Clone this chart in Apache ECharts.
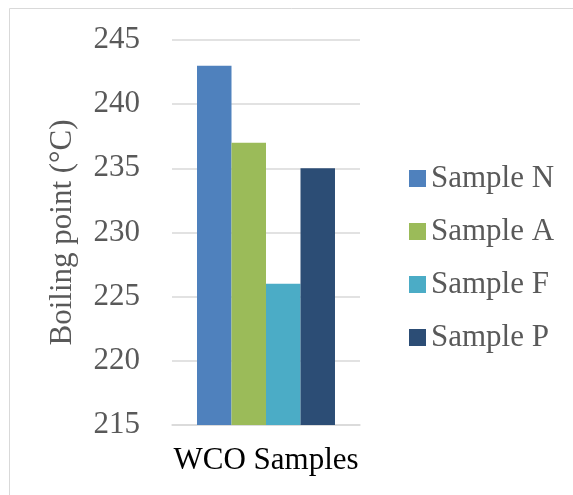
<!DOCTYPE html>
<html>
<head>
<meta charset="utf-8">
<script src="https://cdn.jsdelivr.net/npm/echarts@6/dist/echarts.min.js"></script>
<style>
  html, body { margin: 0; padding: 0; background: #fff; }
  #chart { width: 573px; height: 495px; }
</style>
</head>
<body>
<div id="chart"></div>
<script>
// Boiling point of waste cooking oil samples
const categories = ['WCO Samples'];
const seriesNames = ['Sample N', 'Sample A', 'Sample F', 'Sample P'];
const seriesValues = [[243], [237], [226], [235]];
const seriesColors = ['#4F81BD', '#9BBB59', '#4BACC6', '#2C4D75'];
const yMin = 215, yMax = 245, yStep = 5;

const FONT = 'Liberation Serif';

const chart = echarts.init(document.getElementById('chart'), null, { renderer: 'canvas' });

const series = seriesNames.map((name, i) => ({
  name: name,
  type: 'bar',
  data: seriesValues[i],
  itemStyle: { color: seriesColors[i] },
  barGap: 0,
  barCategoryGap: '26.6%'
}));

chart.setOption({
  backgroundColor: '#ffffff',
  animation: false,
  graphic: [{
    type: 'rect',
    shape: { x: 9.5, y: 8.5, width: 700, height: 700 },
    style: { fill: 'none', stroke: '#d9d9d9', lineWidth: 1 },
    silent: true,
    z: -10
  }],
  grid: { left: 172, right: 213, top: 40, bottom: 70 },
  legend: {
    orient: 'vertical',
    left: 404,
    top: 158,
    itemWidth: 17,
    itemHeight: 17,
    itemGap: 22,
    icon: 'rect',
    data: seriesNames,
    textStyle: { fontFamily: FONT, fontSize: 31, color: '#595959', lineHeight: 31 }
  },
  xAxis: {
    type: 'category',
    data: categories,
    axisLine: { show: true, lineStyle: { color: '#d9d9d9', width: 1.5 } },
    axisTick: { show: false },
    axisLabel: { fontFamily: FONT, fontSize: 31, color: '#000000', margin: 20 }
  },
  yAxis: {
    type: 'value',
    min: yMin,
    max: yMax,
    interval: yStep,
    name: 'Boiling point (°C)',
    nameLocation: 'middle',
    nameGap: 94,
    nameTextStyle: { fontFamily: FONT, fontSize: 31, color: '#595959' },
    axisLine: { show: false },
    axisTick: { show: false },
    axisLabel: { fontFamily: FONT, fontSize: 31, color: '#595959', margin: 32 },
    splitLine: { lineStyle: { color: '#d9d9d9', width: 1.5 } }
  },
  series: series
});
</script>
</body>
</html>
